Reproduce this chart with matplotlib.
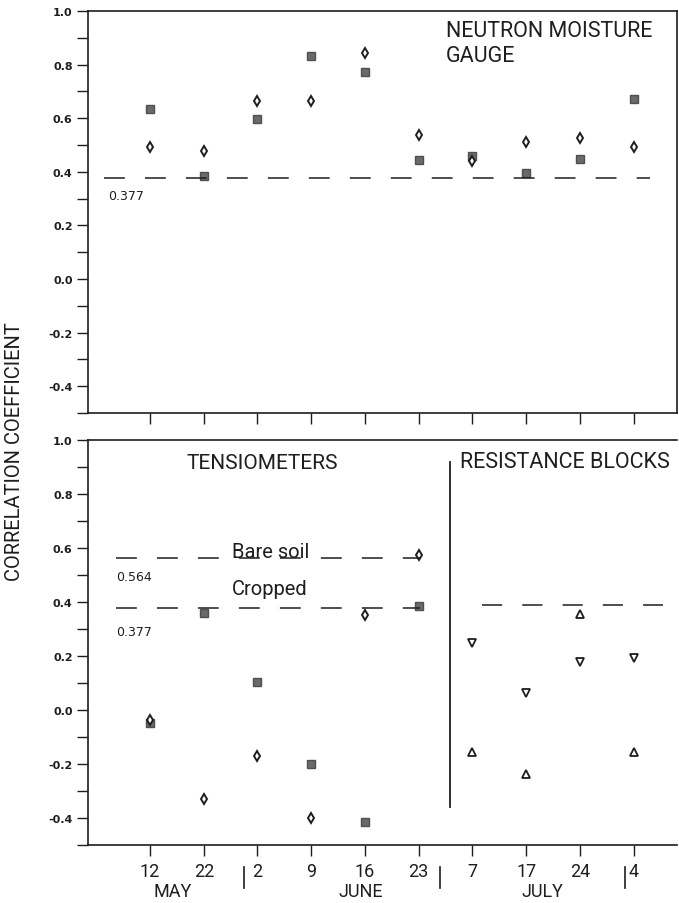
import matplotlib
matplotlib.use('Agg')
import matplotlib.pyplot as plt
from matplotlib import font_manager
from matplotlib.ticker import MultipleLocator, FormatStrFormatter

# pick a narrow sans for the lettering if there is one
avail = {f.name for f in font_manager.fontManager.ttflist}
narrow = 'Liberation Sans Narrow' if 'Liberation Sans Narrow' in avail else 'Roboto'
LET = [narrow, 'DejaVu Sans']

# sampling dates (May 12 ... Aug 4)
days = ['12', '22', '2', '9', '16', '23', '7', '17', '24', '4']
xpos = list(range(len(days)))

# neutron moisture gauge
neutron_sq = [0.636, 0.385, 0.597, 0.834, 0.772, 0.444, 0.458, 0.395, 0.446, 0.671]
neutron_dm = [0.494, 0.478, 0.663, 0.663, 0.844, 0.537, 0.441, 0.513, 0.527, 0.492]

# tensiometers (first six dates)
tens_x = [0, 1, 2, 3, 4, 5]
tens_sq = [-0.048, 0.360, 0.105, -0.201, -0.416, 0.386]
tens_dm = [-0.038, -0.330, -0.172, -0.401, 0.353, 0.573]

# resistance blocks (last four dates)
res_x = [6, 7, 8, 9]
res_down = [0.247, 0.062, 0.177, 0.191]
res_up = [-0.157, -0.237, 0.357, -0.157]

# significance levels
r_crop = 0.377
r_bare = 0.564
r_res = 0.390

plt.rcParams['lines.scale_dashes'] = False
DASH = (15, 14.5)
INK = '#1e1e1e'

fig = plt.figure(figsize=(6.79, 9.04), dpi=100)
ax1 = fig.add_axes([0.1296, 0.542, 0.8675, 0.4447])
ax2 = fig.add_axes([0.1296, 0.0642, 0.8675, 0.448])

for ax in (ax1, ax2):
    ax.set_xlim(-1.155, 9.81)
    ax.set_ylim(-0.5, 1.0)
    ax.yaxis.set_major_locator(MultipleLocator(0.2))
    ax.yaxis.set_minor_locator(MultipleLocator(0.1))
    ax.yaxis.set_major_formatter(FormatStrFormatter('%.1f'))
    ax.set_xticks(xpos)
    ax.tick_params(axis='both', which='both', direction='out', length=8,
                   width=1.0, color=INK)
    ax.tick_params(axis='y', labelsize=8, pad=3)
    for lab in ax.get_yticklabels():
        lab.set_fontweight('bold')
        lab.set_color(INK)
    for sp in ax.spines.values():
        sp.set_linewidth(1.2)
        sp.set_color(INK)

# ---- top panel
ax1.set_xticklabels([])
ax1.plot(xpos, neutron_sq, ls='none', marker='s', ms=5.5, mfc='#6a6a6a', mec='#505050')
ax1.plot(xpos, neutron_dm, ls='none', marker='d', ms=5.5, mfc='white', mec=INK, mew=1.4)
ax1.plot([-0.85, 9.3], [r_crop, r_crop], color=INK, lw=1.1, dashes=DASH)
ax1.text(-0.78, 0.31, '0.377', fontsize=9, color=INK, va='center', ha='left')
ax1.text(5.5, 0.965, 'NEUTRON MOISTURE\nGAUGE', family=LET, fontsize=15.5,
         color=INK, ha='left', va='top', linespacing=1.25)

# ---- bottom panel
ax2.spines['right'].set_visible(False)
ax2.set_xticklabels(days, family=LET, fontsize=13, color=INK)
ax2.tick_params(axis='x', pad=4)

ax2.plot(tens_x, tens_sq, ls='none', marker='s', ms=5.5, mfc='#6a6a6a', mec='#505050')
ax2.plot(tens_x, tens_dm, ls='none', marker='d', ms=5.5, mfc='white', mec=INK, mew=1.4)
ax2.plot(res_x, res_down, ls='none', marker='v', ms=5.5, mfc='white', mec=INK, mew=1.3)
ax2.plot(res_x, res_up, ls='none', marker='^', ms=5.5, mfc='white', mec=INK, mew=1.3)

ax2.plot([-0.63, 5.03], [r_bare, r_bare], color=INK, lw=1.1, dashes=DASH)
ax2.plot([-0.63, 5.03], [r_crop, r_crop], color=INK, lw=1.1, dashes=DASH)
ax2.plot([6.18, 9.55], [r_res, r_res], color=INK, lw=1.1, dashes=(14.5, 14.5))
ax2.plot([5.59, 5.59], [0.919, -0.36], color=INK, lw=1.3)

ax2.text(-0.63, 0.493, '0.564', fontsize=9, color=INK, va='center', ha='left')
ax2.text(-0.63, 0.289, '0.377', fontsize=9, color=INK, va='center', ha='left')
ax2.text(1.53, 0.567, 'Bare soil', family=LET, fontsize=14.5, color=INK,
         ha='left', va='baseline')
ax2.text(1.53, 0.430, 'Cropped', family=LET, fontsize=14.5, color=INK,
         ha='left', va='baseline')
ax2.text(0.67, 0.915, 'TENSIOMETERS', family=LET, fontsize=15, color=INK,
         ha='left', va='center')
ax2.text(5.77, 0.919, 'RESISTANCE BLOCKS', family=LET, fontsize=15.5, color=INK,
         ha='left', va='center')

# month names and separators under the date labels
xt = ax2.get_xaxis_transform()
for name, xm in [('MAY', 0.43), ('JUNE', 3.93), ('JULY', 7.3)]:
    ax2.text(xm, -0.114, name, transform=xt, family=LET, fontsize=13,
             color=INK, ha='center', va='center', clip_on=False)
for xs in [1.74, 5.4, 8.85]:
    ax2.plot([xs, xs], [-0.054, -0.106], transform=xt, color=INK, lw=1.2,
             clip_on=False)

fig.text(0.021, 0.5, 'CORRELATION COEFFICIENT', family=LET, fontsize=14.5,
         color=INK, rotation=90, ha='center', va='center')

fig.savefig('out.png', dpi=100)
